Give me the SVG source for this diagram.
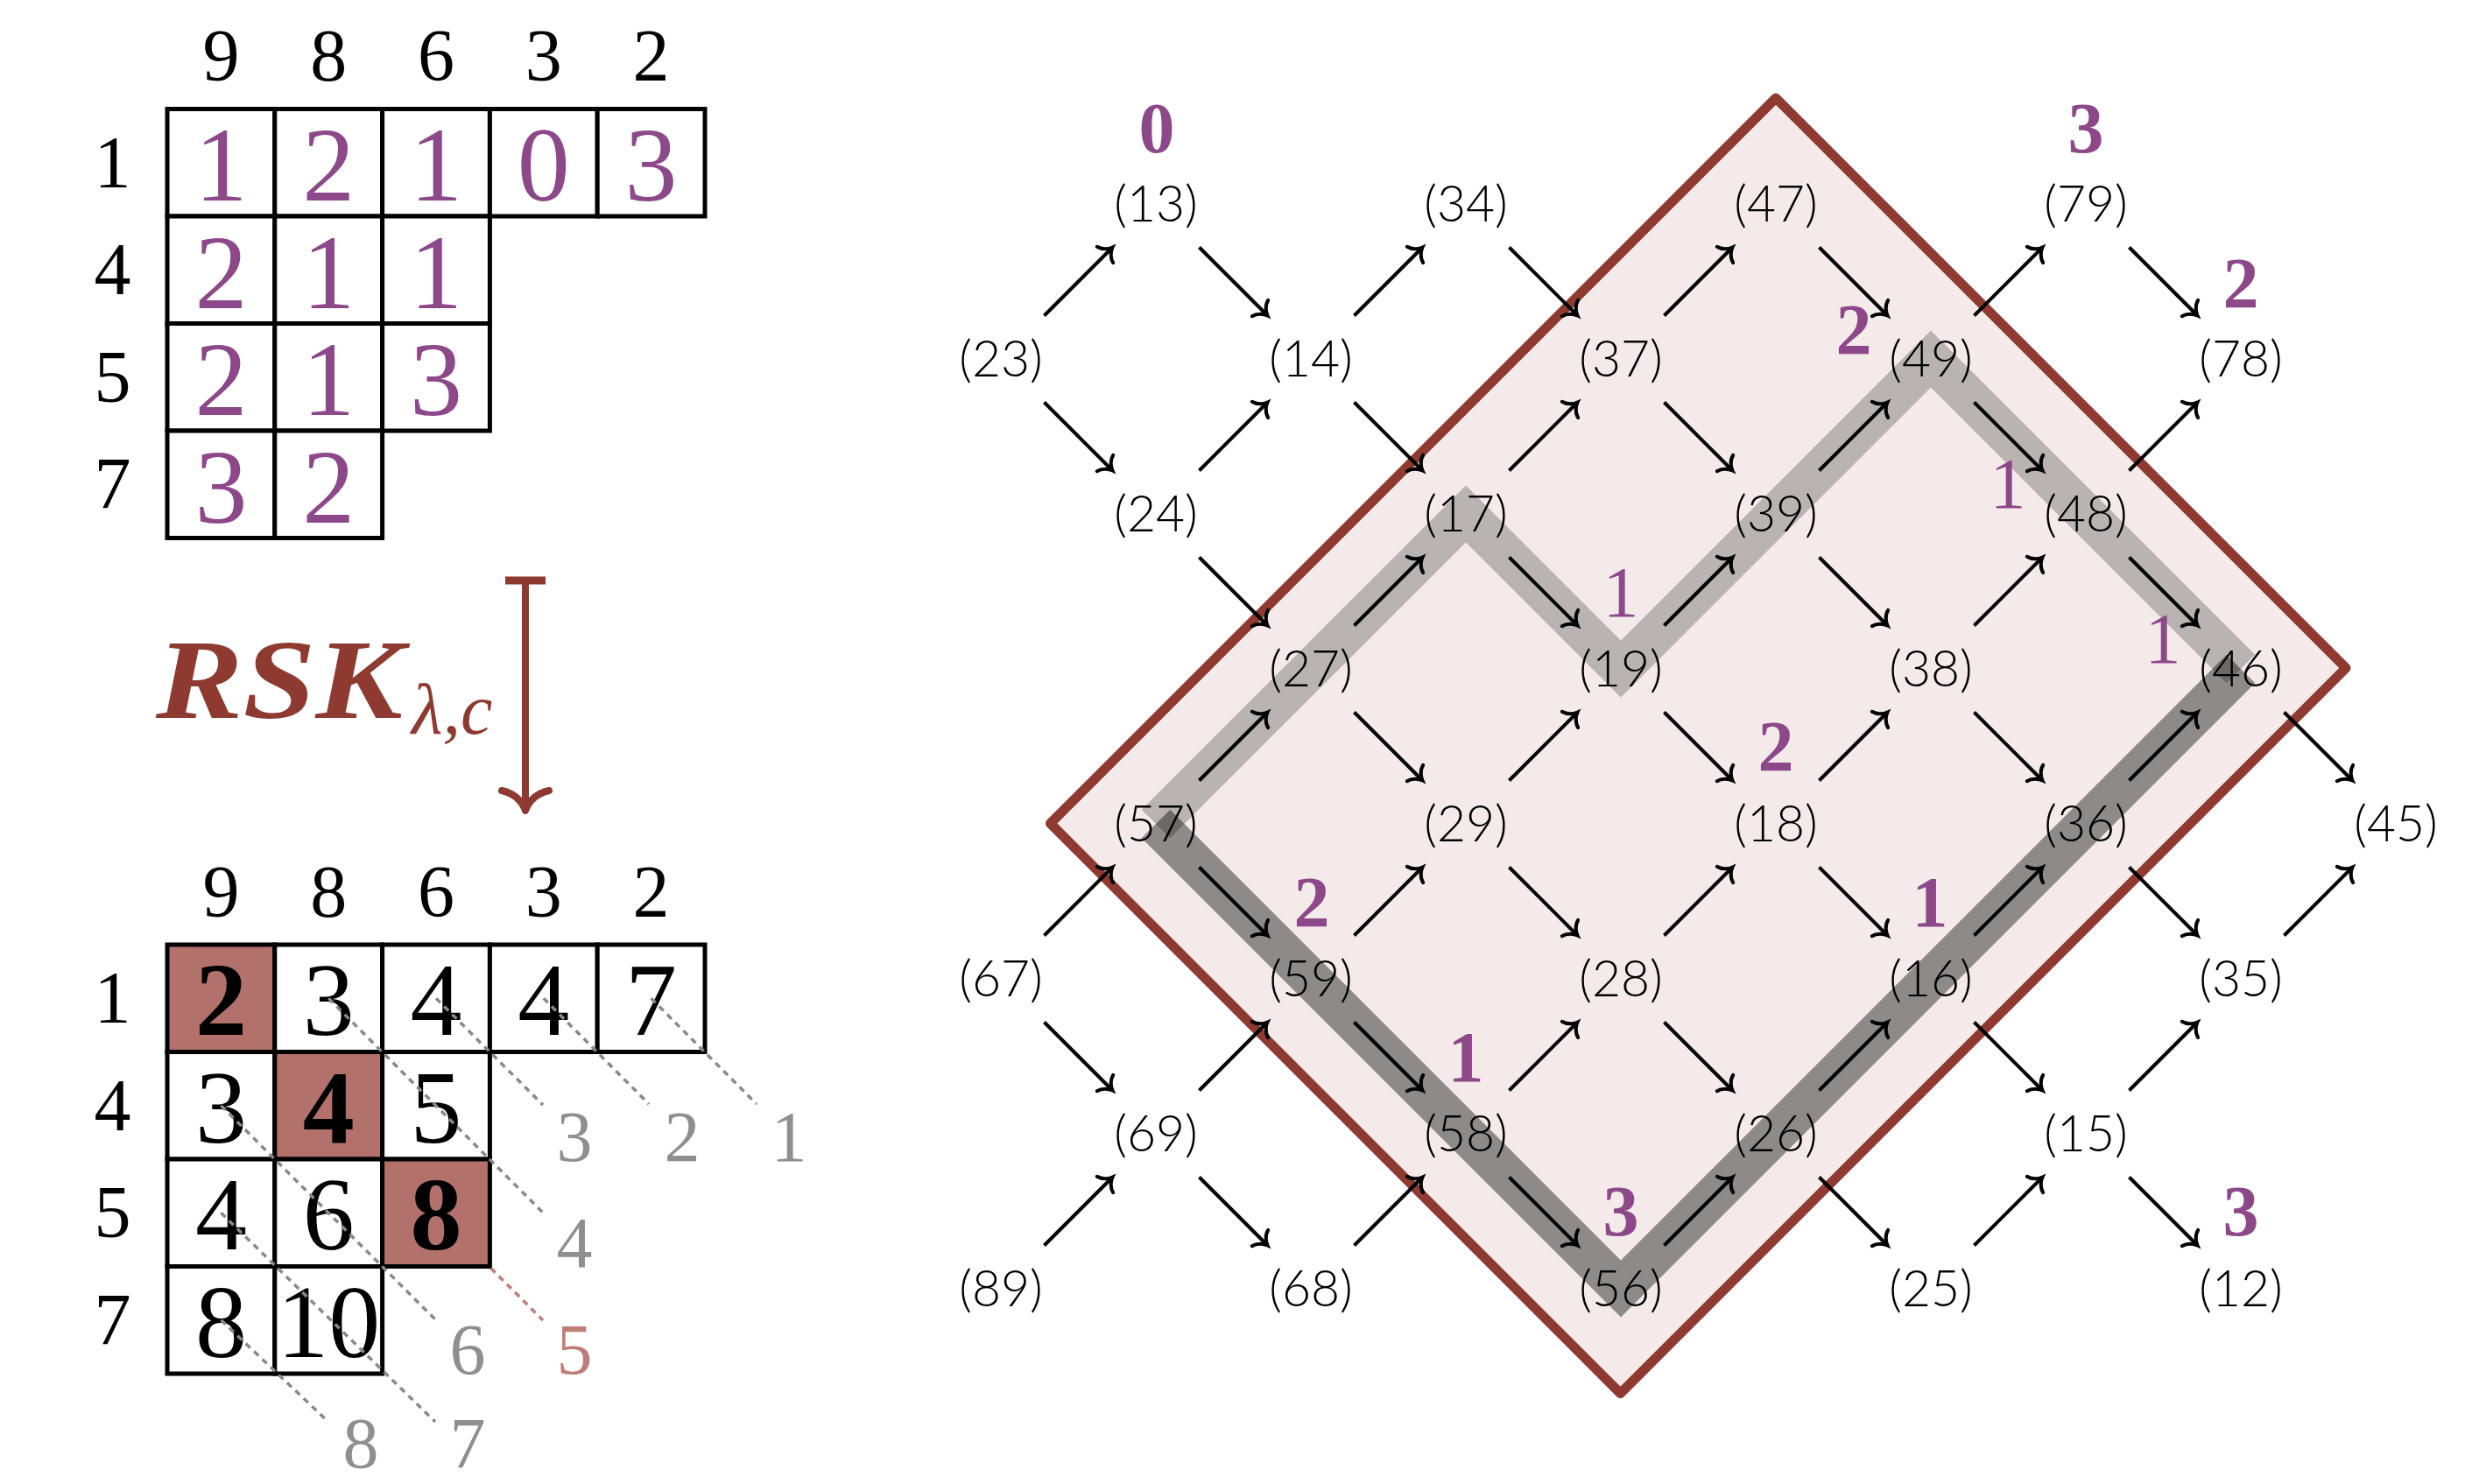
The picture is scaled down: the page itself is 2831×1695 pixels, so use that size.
<svg xmlns="http://www.w3.org/2000/svg" width="2831" height="1695" viewBox="0 0 2831 1695">
<style>
.bg{fill:#ffffff}
.cell{fill:#ffffff;stroke:#000;stroke-width:5}
.hl{fill:#b3716c;stroke:#000;stroke-width:5}
.hd{font-family:"Liberation Serif",serif;font-size:84px;fill:#000;text-anchor:middle}
.pv{font-family:"Liberation Serif",serif;font-size:120px;fill:#8d4889;text-anchor:middle}
.tv{font-family:"Liberation Serif",serif;font-size:118px;fill:#000;text-anchor:middle}
.tb{font-family:"Liberation Serif",serif;font-size:118px;font-weight:bold;fill:#000;text-anchor:middle}
.dot{stroke:#8a8a8a;stroke-width:3.5;stroke-dasharray:7 6;fill:none}
.dotr{stroke:#c07d77;stroke-width:3.5;stroke-dasharray:7 6;fill:none}
.gl{font-family:"Liberation Serif",serif;font-size:82px;fill:#8f8f8f;text-anchor:middle}
.glr{font-family:"Liberation Serif",serif;font-size:82px;fill:#c07d77;text-anchor:middle}
.nd{font-family:Lato,"Liberation Sans",sans-serif;font-weight:300;font-size:57px;fill:#000;text-anchor:middle}
.wb{font-family:"Liberation Serif",serif;font-weight:bold;font-size:82px;fill:#8d4889;text-anchor:middle}
.wr{font-family:"Liberation Serif",serif;font-size:82px;fill:#8d4889;text-anchor:middle}
.ar{stroke:#000;stroke-width:4;fill:none;marker-end:url(#ah)}
</style>
<defs>
<marker id="ah" viewBox="-20 -20 40 40" markerWidth="40" markerHeight="40" refX="0" refY="0" orient="auto" markerUnits="userSpaceOnUse">
<path d="M -12 -13 C -10.5 -6 -4 -1.5 0 0 C -4 1.5 -10.5 6 -12 13" fill="none" stroke="#000" stroke-width="4" stroke-linecap="round"/>
</marker>
</defs>
<rect class="bg" x="0" y="0" width="2831" height="1695"/>

<!-- Top table -->
<g id="table-top">
<text class="hd" x="252.4" y="92">9</text><text class="hd" x="375.2" y="92">8</text><text class="hd" x="498" y="92">6</text><text class="hd" x="620.8" y="92">3</text><text class="hd" x="743.6" y="92">2</text>
<text class="hd" x="128.5" y="214">1</text><text class="hd" x="128.5" y="336">4</text><text class="hd" x="128.5" y="459">5</text><text class="hd" x="128.5" y="581">7</text>
<rect class="cell" x="191" y="124.5" width="122.8" height="122.5"/><rect class="cell" x="313.8" y="124.5" width="122.8" height="122.5"/><rect class="cell" x="436.6" y="124.5" width="122.8" height="122.5"/><rect class="cell" x="559.4" y="124.5" width="122.8" height="122.5"/><rect class="cell" x="682.2" y="124.5" width="122.8" height="122.5"/>
<rect class="cell" x="191" y="247" width="122.8" height="122.5"/><rect class="cell" x="313.8" y="247" width="122.8" height="122.5"/><rect class="cell" x="436.6" y="247" width="122.8" height="122.5"/>
<rect class="cell" x="191" y="369.5" width="122.8" height="122.5"/><rect class="cell" x="313.8" y="369.5" width="122.8" height="122.5"/><rect class="cell" x="436.6" y="369.5" width="122.8" height="122.5"/>
<rect class="cell" x="191" y="492" width="122.8" height="122.5"/><rect class="cell" x="313.8" y="492" width="122.8" height="122.5"/>
<text class="pv" x="252.4" y="229">1</text><text class="pv" x="375.2" y="229">2</text><text class="pv" x="498" y="229">1</text><text class="pv" x="620.8" y="229">0</text><text class="pv" x="743.6" y="229">3</text>
<text class="pv" x="252.4" y="351.5">2</text><text class="pv" x="375.2" y="351.5">1</text><text class="pv" x="498" y="351.5">1</text>
<text class="pv" x="252.4" y="474">2</text><text class="pv" x="375.2" y="474">1</text><text class="pv" x="498" y="474">3</text>
<text class="pv" x="252.4" y="596.5">3</text><text class="pv" x="375.2" y="596.5">2</text>
</g>

<!-- RSK map -->
<g id="rsk-map">
<text x="178" y="820" font-family="Liberation Serif,serif" font-size="130" font-weight="bold" font-style="italic" fill="#8e3a31" textLength="282" lengthAdjust="spacingAndGlyphs">RSK</text>
<text x="470" y="838" font-family="Liberation Serif,serif" font-size="82" font-style="italic" fill="#8e3a31">λ,c</text>
<line x1="577" y1="663" x2="623" y2="663" stroke="#8e3a31" stroke-width="9"/>
<line x1="600" y1="663" x2="600" y2="924" stroke="#8e3a31" stroke-width="8"/>
<path d="M 573 903 Q 594 908 600 926 Q 606 908 627 903" fill="none" stroke="#8e3a31" stroke-width="8" stroke-linecap="round" stroke-linejoin="round"/>
</g>

<!-- Bottom table -->
<g id="table-bottom">
<text class="hd" x="252.4" y="1046.5">9</text><text class="hd" x="375.2" y="1046.5">8</text><text class="hd" x="498" y="1046.5">6</text><text class="hd" x="620.8" y="1046.5">3</text><text class="hd" x="743.6" y="1046.5">2</text>
<text class="hd" x="128.5" y="1168">1</text><text class="hd" x="128.5" y="1291">4</text><text class="hd" x="128.5" y="1413">5</text><text class="hd" x="128.5" y="1536">7</text>
<rect class="hl" x="191" y="1079" width="122.8" height="122.5"/><rect class="cell" x="313.8" y="1079" width="122.8" height="122.5"/><rect class="cell" x="436.6" y="1079" width="122.8" height="122.5"/><rect class="cell" x="559.4" y="1079" width="122.8" height="122.5"/><rect class="cell" x="682.2" y="1079" width="122.8" height="122.5"/>
<rect class="cell" x="191" y="1201.5" width="122.8" height="122.5"/><rect class="hl" x="313.8" y="1201.5" width="122.8" height="122.5"/><rect class="cell" x="436.6" y="1201.5" width="122.8" height="122.5"/>
<rect class="cell" x="191" y="1324" width="122.8" height="122.5"/><rect class="cell" x="313.8" y="1324" width="122.8" height="122.5"/><rect class="hl" x="436.6" y="1324" width="122.8" height="122.5"/>
<rect class="cell" x="191" y="1446.5" width="122.8" height="122.5"/><rect class="cell" x="313.8" y="1446.5" width="122.8" height="122.5"/>
<text class="tb" x="252.4" y="1182">2</text><text class="tv" x="375.2" y="1182">3</text><text class="tv" x="498" y="1182">4</text><text class="tv" x="620.8" y="1182">4</text><text class="tv" x="743.6" y="1182">7</text>
<text class="tv" x="252.4" y="1304.5">3</text><text class="tb" x="375.2" y="1304.5">4</text><text class="tv" x="498" y="1304.5">5</text>
<text class="tv" x="252.4" y="1427">4</text><text class="tv" x="375.2" y="1427">6</text><text class="tb" x="498" y="1427">8</text>
<text class="tv" x="252.4" y="1549.5">8</text><text class="tv" x="375.2" y="1549.5">10</text>
<line class="dot" x1="743.6" y1="1140.3" x2="864" y2="1261"/>
<line class="dot" x1="620.8" y1="1140.3" x2="741" y2="1261"/>
<line class="dot" x1="498" y1="1140.3" x2="620" y2="1262"/>
<line class="dot" x1="375.2" y1="1140.3" x2="620" y2="1385"/>
<line class="dotr" x1="560.6" y1="1448.5" x2="620" y2="1508"/>
<line class="dot" x1="252.4" y1="1262.8" x2="497" y2="1507"/>
<line class="dot" x1="252.4" y1="1385.3" x2="497" y2="1624"/>
<line class="dot" x1="252.4" y1="1507.8" x2="375" y2="1624"/>
<text class="gl" x="901" y="1326">1</text><text class="gl" x="779" y="1326">2</text><text class="gl" x="656" y="1326">3</text>
<text class="gl" x="656" y="1447">4</text><text class="glr" x="656" y="1569">5</text><text class="gl" x="534" y="1569">6</text>
<text class="gl" x="534" y="1676">7</text><text class="gl" x="412" y="1676">8</text>
</g>

<!-- Region -->
<g id="region">
<polygon points="2028,112 2679,763 1850.5,1591.5 1199.5,940.5" fill="#f4eaea" stroke="#8e3a31" stroke-width="11" stroke-linejoin="round"/>
</g>

<!-- Highlighted paths -->
<g id="paths" fill="none" stroke-linejoin="miter" stroke-linecap="butt">
<polyline points="1320,941 1674,587 1851,764 2205,410 2559,764" stroke="#000" stroke-opacity="0.235" stroke-width="46"/>
<polyline points="1320,941 1851,1472 2559,764" stroke="#000" stroke-opacity="0.41" stroke-width="46"/>
</g>

<!-- Connectors -->
<g id="connectors">
<line class="ar" x1="1192.5" y1="360.5" x2="1270.5" y2="282.5"/>
<line class="ar" x1="1192.5" y1="459.5" x2="1270.5" y2="537.5"/>
<line class="ar" x1="1192.5" y1="1068.5" x2="1270.5" y2="990.5"/>
<line class="ar" x1="1192.5" y1="1167.5" x2="1270.5" y2="1245.5"/>
<line class="ar" x1="1192.5" y1="1422.5" x2="1270.5" y2="1344.5"/>

<line class="ar" x1="1369.5" y1="282.5" x2="1447.5" y2="360.5"/>
<line class="ar" x1="1369.5" y1="537.5" x2="1447.5" y2="459.5"/>
<line class="ar" x1="1369.5" y1="636.5" x2="1447.5" y2="714.5"/>
<line class="ar" x1="1369.5" y1="891.5" x2="1447.5" y2="813.5"/>
<line class="ar" x1="1369.5" y1="990.5" x2="1447.5" y2="1068.5"/>
<line class="ar" x1="1369.5" y1="1245.5" x2="1447.5" y2="1167.5"/>
<line class="ar" x1="1369.5" y1="1344.5" x2="1447.5" y2="1422.5"/>

<line class="ar" x1="1546.5" y1="360.5" x2="1624.5" y2="282.5"/>
<line class="ar" x1="1546.5" y1="459.5" x2="1624.5" y2="537.5"/>
<line class="ar" x1="1546.5" y1="714.5" x2="1624.5" y2="636.5"/>
<line class="ar" x1="1546.5" y1="813.5" x2="1624.5" y2="891.5"/>
<line class="ar" x1="1546.5" y1="1068.5" x2="1624.5" y2="990.5"/>
<line class="ar" x1="1546.5" y1="1167.5" x2="1624.5" y2="1245.5"/>
<line class="ar" x1="1546.5" y1="1422.5" x2="1624.5" y2="1344.5"/>

<line class="ar" x1="1723.5" y1="282.5" x2="1801.5" y2="360.5"/>
<line class="ar" x1="1723.5" y1="537.5" x2="1801.5" y2="459.5"/>
<line class="ar" x1="1723.5" y1="636.5" x2="1801.5" y2="714.5"/>
<line class="ar" x1="1723.5" y1="891.5" x2="1801.5" y2="813.5"/>
<line class="ar" x1="1723.5" y1="990.5" x2="1801.5" y2="1068.5"/>
<line class="ar" x1="1723.5" y1="1245.5" x2="1801.5" y2="1167.5"/>
<line class="ar" x1="1723.5" y1="1344.5" x2="1801.5" y2="1422.5"/>

<line class="ar" x1="1900.5" y1="360.5" x2="1978.5" y2="282.5"/>
<line class="ar" x1="1900.5" y1="459.5" x2="1978.5" y2="537.5"/>
<line class="ar" x1="1900.5" y1="714.5" x2="1978.5" y2="636.5"/>
<line class="ar" x1="1900.5" y1="813.5" x2="1978.5" y2="891.5"/>
<line class="ar" x1="1900.5" y1="1068.5" x2="1978.5" y2="990.5"/>
<line class="ar" x1="1900.5" y1="1167.5" x2="1978.5" y2="1245.5"/>
<line class="ar" x1="1900.5" y1="1422.5" x2="1978.5" y2="1344.5"/>

<line class="ar" x1="2077.5" y1="282.5" x2="2155.5" y2="360.5"/>
<line class="ar" x1="2077.5" y1="537.5" x2="2155.5" y2="459.5"/>
<line class="ar" x1="2077.5" y1="636.5" x2="2155.5" y2="714.5"/>
<line class="ar" x1="2077.5" y1="891.5" x2="2155.5" y2="813.5"/>
<line class="ar" x1="2077.5" y1="990.5" x2="2155.5" y2="1068.5"/>
<line class="ar" x1="2077.5" y1="1245.5" x2="2155.5" y2="1167.5"/>
<line class="ar" x1="2077.5" y1="1344.5" x2="2155.5" y2="1422.5"/>

<line class="ar" x1="2254.5" y1="360.5" x2="2332.5" y2="282.5"/>
<line class="ar" x1="2254.5" y1="459.5" x2="2332.5" y2="537.5"/>
<line class="ar" x1="2254.5" y1="714.5" x2="2332.5" y2="636.5"/>
<line class="ar" x1="2254.5" y1="813.5" x2="2332.5" y2="891.5"/>
<line class="ar" x1="2254.5" y1="1068.5" x2="2332.5" y2="990.5"/>
<line class="ar" x1="2254.5" y1="1167.5" x2="2332.5" y2="1245.5"/>
<line class="ar" x1="2254.5" y1="1422.5" x2="2332.5" y2="1344.5"/>

<line class="ar" x1="2431.5" y1="282.5" x2="2509.5" y2="360.5"/>
<line class="ar" x1="2431.5" y1="537.5" x2="2509.5" y2="459.5"/>
<line class="ar" x1="2431.5" y1="636.5" x2="2509.5" y2="714.5"/>
<line class="ar" x1="2431.5" y1="891.5" x2="2509.5" y2="813.5"/>
<line class="ar" x1="2431.5" y1="990.5" x2="2509.5" y2="1068.5"/>
<line class="ar" x1="2431.5" y1="1245.5" x2="2509.5" y2="1167.5"/>
<line class="ar" x1="2431.5" y1="1344.5" x2="2509.5" y2="1422.5"/>

<line class="ar" x1="2608.5" y1="813.5" x2="2686.5" y2="891.5"/>
<line class="ar" x1="2608.5" y1="1068.5" x2="2686.5" y2="990.5"/>
</g>

<!-- Nodes -->
<g id="n13"><text class="nd" x="1320" y="253">(13)</text></g>
<g id="n34"><text class="nd" x="1674" y="253">(34)</text></g>
<g id="n47"><text class="nd" x="2028" y="253">(47)</text></g>
<g id="n79"><text class="nd" x="2382" y="253">(79)</text></g>
<g id="n23"><text class="nd" x="1143" y="430">(23)</text></g>
<g id="n14"><text class="nd" x="1497" y="430">(14)</text></g>
<g id="n37"><text class="nd" x="1851" y="430">(37)</text></g>
<g id="n49"><text class="nd" x="2205" y="430">(49)</text></g>
<g id="n78"><text class="nd" x="2559" y="430">(78)</text></g>
<g id="n24"><text class="nd" x="1320" y="607">(24)</text></g>
<g id="n17"><text class="nd" x="1674" y="607">(17)</text></g>
<g id="n39"><text class="nd" x="2028" y="607">(39)</text></g>
<g id="n48"><text class="nd" x="2382" y="607">(48)</text></g>
<g id="n27"><text class="nd" x="1497" y="784">(27)</text></g>
<g id="n19"><text class="nd" x="1851" y="784">(19)</text></g>
<g id="n38"><text class="nd" x="2205" y="784">(38)</text></g>
<g id="n46"><text class="nd" x="2559" y="784">(46)</text></g>
<g id="n57"><text class="nd" x="1320" y="961">(57)</text></g>
<g id="n29"><text class="nd" x="1674" y="961">(29)</text></g>
<g id="n18"><text class="nd" x="2028" y="961">(18)</text></g>
<g id="n36"><text class="nd" x="2382" y="961">(36)</text></g>
<g id="n45"><text class="nd" x="2736" y="961">(45)</text></g>
<g id="n67"><text class="nd" x="1143" y="1138">(67)</text></g>
<g id="n59"><text class="nd" x="1497" y="1138">(59)</text></g>
<g id="n28"><text class="nd" x="1851" y="1138">(28)</text></g>
<g id="n16"><text class="nd" x="2205" y="1138">(16)</text></g>
<g id="n35"><text class="nd" x="2559" y="1138">(35)</text></g>
<g id="n69"><text class="nd" x="1320" y="1315">(69)</text></g>
<g id="n58"><text class="nd" x="1674" y="1315">(58)</text></g>
<g id="n26"><text class="nd" x="2028" y="1315">(26)</text></g>
<g id="n15"><text class="nd" x="2382" y="1315">(15)</text></g>
<g id="n89"><text class="nd" x="1143" y="1492">(89)</text></g>
<g id="n68"><text class="nd" x="1497" y="1492">(68)</text></g>
<g id="n56"><text class="nd" x="1851" y="1492">(56)</text></g>
<g id="n25"><text class="nd" x="2205" y="1492">(25)</text></g>
<g id="n12"><text class="nd" x="2559" y="1492">(12)</text></g>

<!-- Weights -->
<g id="weights">
<text class="wb" x="1321" y="174">0</text>
<text class="wb" x="2382" y="174">3</text>
<text class="wb" x="2559" y="351">2</text>
<text class="wb" x="2117" y="404">2</text>
<text class="wr" x="2293" y="580">1</text>
<text class="wr" x="1851" y="704">1</text>
<text class="wr" x="2470" y="757">1</text>
<text class="wb" x="2028" y="880">2</text>
<text class="wb" x="1498" y="1058">2</text>
<text class="wb" x="2204" y="1058">1</text>
<text class="wb" x="1674" y="1235">1</text>
<text class="wb" x="1851" y="1411">3</text>
<text class="wb" x="2559" y="1411">3</text>
</g>
</svg>
